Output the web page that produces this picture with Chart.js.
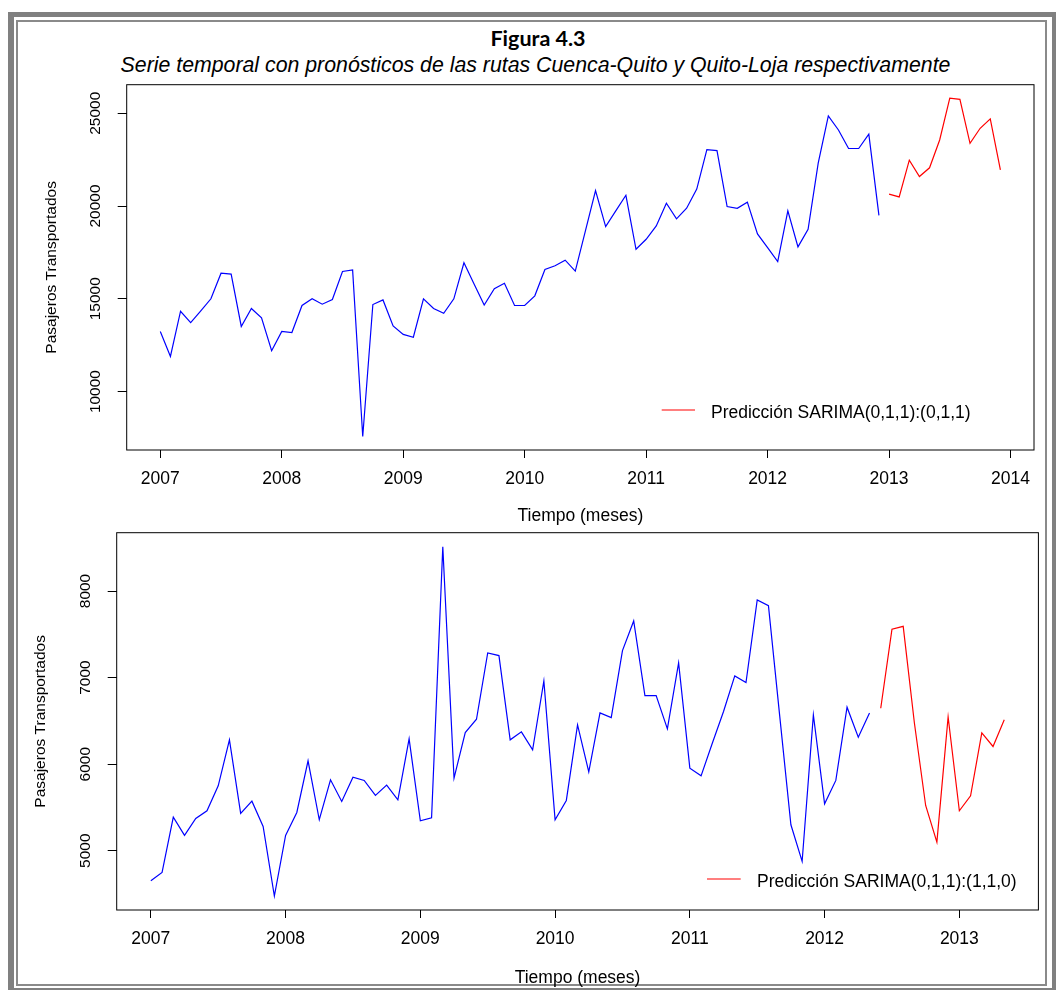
<!DOCTYPE html>
<html>
<head>
<meta charset="utf-8">
<script src="https://cdn.jsdelivr.net/npm/chart.js@4.4.1/dist/chart.umd.min.js"></script>
<style>
  body { margin: 0; background: #fff; overflow: hidden; }
  #page { position: relative; width: 1056px; height: 990px; overflow: hidden; background: #fff; }
  .frame-out { position: absolute; left: 8px; top: 12px; width: 1050px; height: 982px;
               box-sizing: border-box; border: 6px solid #808080; border-top-width: 5px; }
  .frame-in { position: absolute; left: 16px; top: 20px; width: 1031px; height: 966px;
              box-sizing: border-box; border: 2px solid #8a8a8a; }
  .fig { position: absolute; left: 0; width: 1076px; top: 28px; text-align: center;
         font: bold 21.5px Lato, "Open Sans", sans-serif; line-height: 1; color: #000; }
  .sub { position: absolute; left: 0; width: 1071px; top: 54.5px; text-align: center;
         font: italic 21.3px "Liberation Sans", Arial, sans-serif; line-height: 1; color: #000; }
  canvas { position: absolute; left: 0; }
  #c1 { top: 0; }
  #c2 { top: 528px; }
</style>
</head>
<body>
<div id="page">
  <div class="frame-out"></div>
  <div class="frame-in"></div>
  <div class="fig">Figura 4.3</div>
  <div class="sub">Serie temporal con pronósticos de las rutas Cuenca-Quito y Quito-Loja respectivamente</div>
  <canvas id="c1" width="1056" height="528"></canvas>
  <canvas id="c2" width="1056" height="462"></canvas>
</div>
<script>
// monthly series, Cuenca-Quito (top) starting Jan 2007, forecast from Jan 2013
const cuencaQuito = [
  13240, 11890, 14330, 13720, 14350, 15000, 16380, 16330, 13510, 14480, 13970, 12200,
  13240, 13180, 14640, 15000, 14710, 14960, 16470, 16560, 7580, 14690, 14940, 13540,
  13080, 12930, 15000, 14480, 14220, 15000, 16940, 15800, 14660, 15540, 15840, 14640,
  14640, 15160, 16580, 16780, 17080, 16490, 18660, 20830, 18890, 19740, 20580, 17670,
  18210, 18930, 20150, 19310, 19880, 20910, 23040, 22990, 19970, 19880, 20210, 18500,
  17760, 17010, 19740, 17800, 18750, 22310, 24860, 24100, 23100, 23100, 23870, 19500
];
const cuencaQuitoPred = [20640, 20490, 22470, 21590, 22060, 23560, 25810, 25750, 23380, 24190, 24700, 21950];

// Quito-Loja (bottom) starting Jan 2007, forecast from Jun 2012
const quitoLoja = [
  4654, 4750, 5389, 5177, 5373, 5462, 5750, 6281, 5431, 5573, 5281, 4477,
  5177, 5442, 6039, 5358, 5819, 5569, 5850, 5812, 5639, 5758, 5589, 6292,
  5346, 5381, 8512, 5839, 6365, 6519, 7285, 7254, 6281, 6373, 6165, 6962,
  5358, 5581, 6454, 5912, 6592, 6538, 7312, 7654, 6792, 6792, 6408, 7169,
  5954, 5865, 6242, 6608, 7019, 6942, 7896, 7831, 6560, 5300, 4877, 6569,
  5542, 5812, 6658, 6312, 6592
];
const quitoLojaPred = [6646, 7558, 7592, 6473, 5523, 5100, 6546, 5462, 5635, 6362, 6204, 6512];

const seriesStart = 2007;
const predStartTop = 2013;
const predStartBottom = 2012 + 5 / 12;
const yTicksTop = [10000, 15000, 20000, 25000];
const yTicksBottom = [5000, 6000, 7000, 8000];

const labelY = 'Pasajeros Transportados';
const labelX = 'Tiempo (meses)';
const legendTop = 'Predicción SARIMA(0,1,1):(0,1,1)';
const legendBottom = 'Predicción SARIMA(0,1,1):(1,1,0)';

const FONT = '"Liberation Sans", Arial, sans-serif';
Chart.defaults.font.family = FONT;
Chart.defaults.color = '#000';

function toPoints(values, start) {
  return values.map((v, i) => ({ x: start + i / 12, y: v }));
}

// R style axis limits: data range widened by 4% each side
function rLimits(a, b) {
  const lo = Math.min(a, b[0]), hi = Math.max(a, b[1]);
  const d = (hi - lo) * 0.04;
  return [lo - d, hi + d];
}

// box around the plot, rotated y labels and the legend, like R's base graphics
const rStyle = {
  id: 'rStyle',
  afterDraw(chart, args, opts) {
    const { ctx, chartArea: a } = chart;
    ctx.save();
    ctx.strokeStyle = '#000';
    ctx.lineWidth = 1;
    ctx.strokeRect(a.left, a.top, a.right - a.left, a.bottom - a.top);

    const ys = chart.scales.y;
    ctx.fillStyle = '#000';
    ctx.font = '15.5px ' + FONT;
    ctx.textAlign = 'center';
    ctx.textBaseline = 'alphabetic';
    ys.ticks.forEach(t => {
      ctx.save();
      ctx.translate(a.left + opts.labelX, ys.getPixelForValue(t.value));
      ctx.rotate(-Math.PI / 2);
      ctx.fillText(String(t.value), 0, 0);
      ctx.restore();
    });

    const ds = chart.data.datasets[1];
    const lg = opts.legend;
    ctx.strokeStyle = ds.borderColor;
    ctx.lineWidth = ds.borderWidth;
    ctx.beginPath();
    ctx.moveTo(a.left + lg.x0, a.bottom + lg.y);
    ctx.lineTo(a.left + lg.x1, a.bottom + lg.y);
    ctx.stroke();
    ctx.font = '17.5px ' + FONT;
    ctx.textAlign = 'left';
    ctx.fillText(ds.label, a.left + lg.tx, a.bottom + lg.ty);
    ctx.restore();
  }
};

function buildChart(id, obs, pred, predStart, yTicks, legendText, layout) {
  const obsPts = toPoints(obs, seriesStart);
  const predPts = toPoints(pred, predStart);
  const allY = obs.concat(pred);
  const xLim = rLimits(seriesStart, [seriesStart, predPts[predPts.length - 1].x]);
  const yLim = rLimits(Math.min(...allY), [Math.min(...allY), Math.max(...allY)]);

  return new Chart(document.getElementById(id), {
    type: 'line',
    data: {
      datasets: [
        { label: 'Observado', data: obsPts, borderColor: '#0000ff', borderWidth: 1.2,
          pointRadius: 0, tension: 0, fill: false },
        { label: legendText, data: predPts, borderColor: '#ff0000', borderWidth: 1.2,
          pointRadius: 0, tension: 0, fill: false }
      ]
    },
    options: {
      responsive: false,
      devicePixelRatio: 1,
      animation: false,
      events: [],
      layout: { padding: layout.padding },
      plugins: {
        legend: { display: false },
        tooltip: { enabled: false },
        rStyle: { labelX: -26.7, legend: layout.legend }
      },
      scales: {
        x: {
          type: 'linear',
          min: xLim[0],
          max: xLim[1],
          afterBuildTicks: s => { s.ticks = s.ticks.filter(t => Number.isInteger(t.value)); },
          ticks: { stepSize: 1, includeBounds: false, autoSkip: false, maxRotation: 0,
                   padding: 11, font: { size: 17.5 }, color: '#000',
                   callback: v => String(v) },
          grid: { display: true, drawOnChartArea: false, drawTicks: true, tickLength: 8,
                  color: '#000', lineWidth: 1 },
          border: { display: false },
          title: { display: true, text: labelX, font: { size: 17.5 }, color: '#000',
                   padding: { top: 0, bottom: layout.xTitlePad } },
          afterFit: s => { s.height = layout.xHeight; }
        },
        y: {
          type: 'linear',
          min: yLim[0],
          max: yLim[1],
          afterBuildTicks: s => { s.ticks = yTicks.map(v => ({ value: v })); },
          ticks: { display: false },
          grid: { display: true, drawOnChartArea: false, drawTicks: true, tickLength: 9,
                  color: '#000', lineWidth: 1 },
          border: { display: false },
          title: { display: true, text: labelY, font: { size: 15.5 }, color: '#000',
                   padding: { top: layout.yTitlePad, bottom: 0 } },
          afterFit: s => { s.width = layout.yWidth; }
        }
      }
    },
    plugins: [rStyle]
  });
}

buildChart('c1', cuencaQuito, cuencaQuitoPred, predStartTop, yTicksTop, legendTop, {
  padding: { left: 20, top: 84.7, right: 22, bottom: 0 },
  yWidth: 106.7, xHeight: 78, xTitlePad: 1.2, yTitlePad: 22,
  legend: { x0: 535, x1: 568.3, y: -40, tx: 584.3, ty: -31.7 }
});

buildChart('c2', quitoLoja, quitoLojaPred, predStartBottom, yTicksBottom, legendBottom, {
  padding: { left: 20, top: 4.7, right: 17.6, bottom: 0 },
  yWidth: 96.7, xHeight: 80, xTitlePad: 1.8, yTitlePad: 11.8,
  legend: { x0: 590.3, x1: 624, y: -31, tx: 640.3, ty: -22.7 }
});
</script>
</body>
</html>
